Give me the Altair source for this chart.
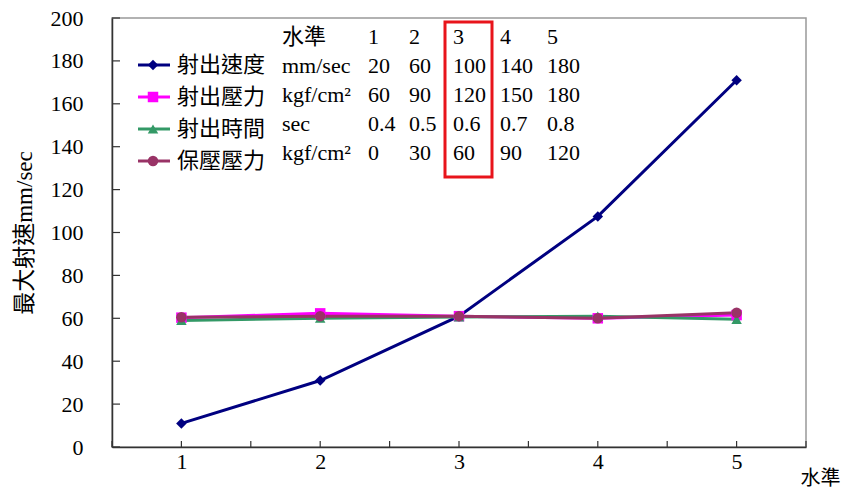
import altair as alt
import pandas as pd

# Series values at each level (水準 1-5)
levels = [1, 2, 3, 4, 5]
series_names = ["射出速度", "射出壓力", "射出時間", "保壓壓力"]
speed = [11, 31, 61, 107.5, 171]
inj_pressure = [60.3, 62.3, 61, 60, 61.5]
inj_time = [59, 60, 60.6, 61, 59.5]
hold_pressure = [60.5, 61, 61, 60, 62.6]

colors = ["#000080", "#FF00FF", "#339966", "#993366"]
shapes = ["diamond", "square", "triangle-up", "circle"]

# Process-setting table shown inside the plot
table_header = ["水準", "1", "2", "3", "4", "5"]
table_units = ["mm/sec", "kgf/cm²", "sec", "kgf/cm²"]
table_values = [
    ["20", "60", "100", "140", "180"],
    ["60", "90", "120", "150", "180"],
    ["0.4", "0.5", "0.6", "0.7", "0.8"],
    ["0", "30", "60", "90", "120"],
]

y_ticks = list(range(0, 201, 20))
x_ticks = [0.5, 1, 1.5, 2, 2.5, 3, 3.5, 4, 4.5, 5, 5.5]

FONT = "'Liberation Serif', 'Noto Sans CJK TC', serif"
W, H = 694, 429

rows = []
for name, vals in zip(series_names, [speed, inj_pressure, inj_time, hold_pressure]):
    for lv, v in zip(levels, vals):
        rows.append({"series": name, "level": lv, "value": v})
df = pd.DataFrame(rows)
df["order"] = df["series"].map({n: i for i, n in enumerate(series_names)})

x_scale = alt.Scale(domain=[0.5, 5.5], nice=False, zero=False)
y_scale = alt.Scale(domain=[0, 200], nice=False)
color_scale = alt.Scale(domain=series_names, range=colors)
shape_scale = alt.Scale(domain=series_names, range=shapes)

x_enc = alt.X(
    "level:Q", scale=x_scale,
    axis=alt.Axis(
        values=levels, format="d", tickSize=0, grid=False,
        domainColor="#333333", domainWidth=1.5,
        labelFont=FONT, labelFontSize=22, labelColor="black", labelPadding=4,
        title="水準", titleFont=FONT, titleFontSize=20, titleFontWeight="normal",
        titleColor="black", titleX=708, titleY=31, titleAlign="center",
        titleBaseline="middle",
    ),
)
y_enc = alt.Y(
    "value:Q", scale=y_scale,
    axis=alt.Axis(
        values=y_ticks, tickSize=0, grid=False,
        domainColor="#333333", domainWidth=1.5,
        labelFont=FONT, labelFontSize=22, labelColor="black", labelPadding=29,
        title="最大射速mm/sec", titleFont=FONT, titleFontSize=23,
        titleFontWeight="normal", titleColor="black", titlePadding=14,
    ),
)
color_enc = alt.Color("series:N", scale=color_scale, legend=None)
shape_enc = alt.Shape("series:N", scale=shape_scale, legend=None)
order_enc = alt.Order("order:Q")

lines = alt.Chart(df).mark_line(strokeWidth=3).encode(
    x=x_enc, y=y_enc, color=color_enc, detail="series:N"
)
points = alt.Chart(df).mark_point(filled=True, opacity=1, size=110).encode(
    x=x_enc, y=y_enc, color=color_enc, shape=shape_enc, order=order_enc
)

# Inward tick marks on both axes
ytick_df = pd.DataFrame({"value": y_ticks})
ytick_layer = alt.Chart(ytick_df).mark_rule(color="#333333", strokeWidth=1.2).encode(
    y=y_enc, x=alt.value(0), x2=alt.value(8)
)
xtick_df = pd.DataFrame({"level": x_ticks})
xtick_layer = alt.Chart(xtick_df).mark_rule(color="#333333", strokeWidth=1.2).encode(
    x=x_enc, y=alt.value(H), y2=alt.value(H - 6)
)

main = alt.layer(lines, points, ytick_layer, xtick_layer)

# Legend: line sample with marker and label, one row per series
leg_df = pd.DataFrame({"series": series_names, "row": list(range(len(series_names)))})
leg_y = alt.Y("row:Q", scale=alt.Scale(domain=[0, 3], range=[47, 143]), axis=None)
leg_lines = alt.Chart(leg_df).mark_rule(strokeWidth=3).encode(
    x=alt.value(26), x2=alt.value(58), y=leg_y, color=color_enc
)
leg_points = alt.Chart(leg_df).mark_point(filled=True, opacity=1, size=110).encode(
    x=alt.value(41), y=leg_y, color=color_enc, shape=shape_enc
)
leg_text = alt.Chart(leg_df).mark_text(
    align="left", baseline="middle", font="Noto Sans CJK TC", fontSize=22, color="black"
).encode(x=alt.value(65), y=leg_y, text="series:N")
legend = alt.layer(leg_lines, leg_points, leg_text)

# Table columns
col_x = [170, 256, 297, 341, 388, 435]
tab_y = alt.Y("row:Q", scale=alt.Scale(domain=[0, 4], range=[19, 135]), axis=None)
col_layers = []
for ci, cx in enumerate(col_x):
    if ci == 0:
        texts = [table_header[0]] + table_units
    else:
        texts = [table_header[ci]] + [r[ci - 1] for r in table_values]
    cdf = pd.DataFrame({"row": list(range(len(texts))), "label": texts})
    col_layers.append(
        alt.Chart(cdf).mark_text(
            align="left", baseline="middle", font=FONT, fontSize=22, color="black"
        ).encode(x=alt.value(cx), y=tab_y, text="label:N")
    )
table = alt.layer(*col_layers)

# Highlight box around level 3
box = alt.Chart(pd.DataFrame({"a": [0]})).mark_rect(
    fill=None, stroke="#E8141B", strokeWidth=3
).encode(x=alt.value(333), x2=alt.value(380), y=alt.value(4), y2=alt.value(159))

chart = (
    alt.layer(main, legend, table, box)
    .resolve_scale(x="independent", y="independent", color="independent", shape="independent")
    .properties(
        width=W, height=H,
        autosize=alt.AutoSizeParams(type="none"),
        padding={"left": 112, "top": 18, "right": 37, "bottom": 47},
        background="white",
    )
    .configure_view(stroke="#999999", strokeWidth=1.5)
)

chart.save("out.html", embed_options={"renderer": "svg", "actions": False})
